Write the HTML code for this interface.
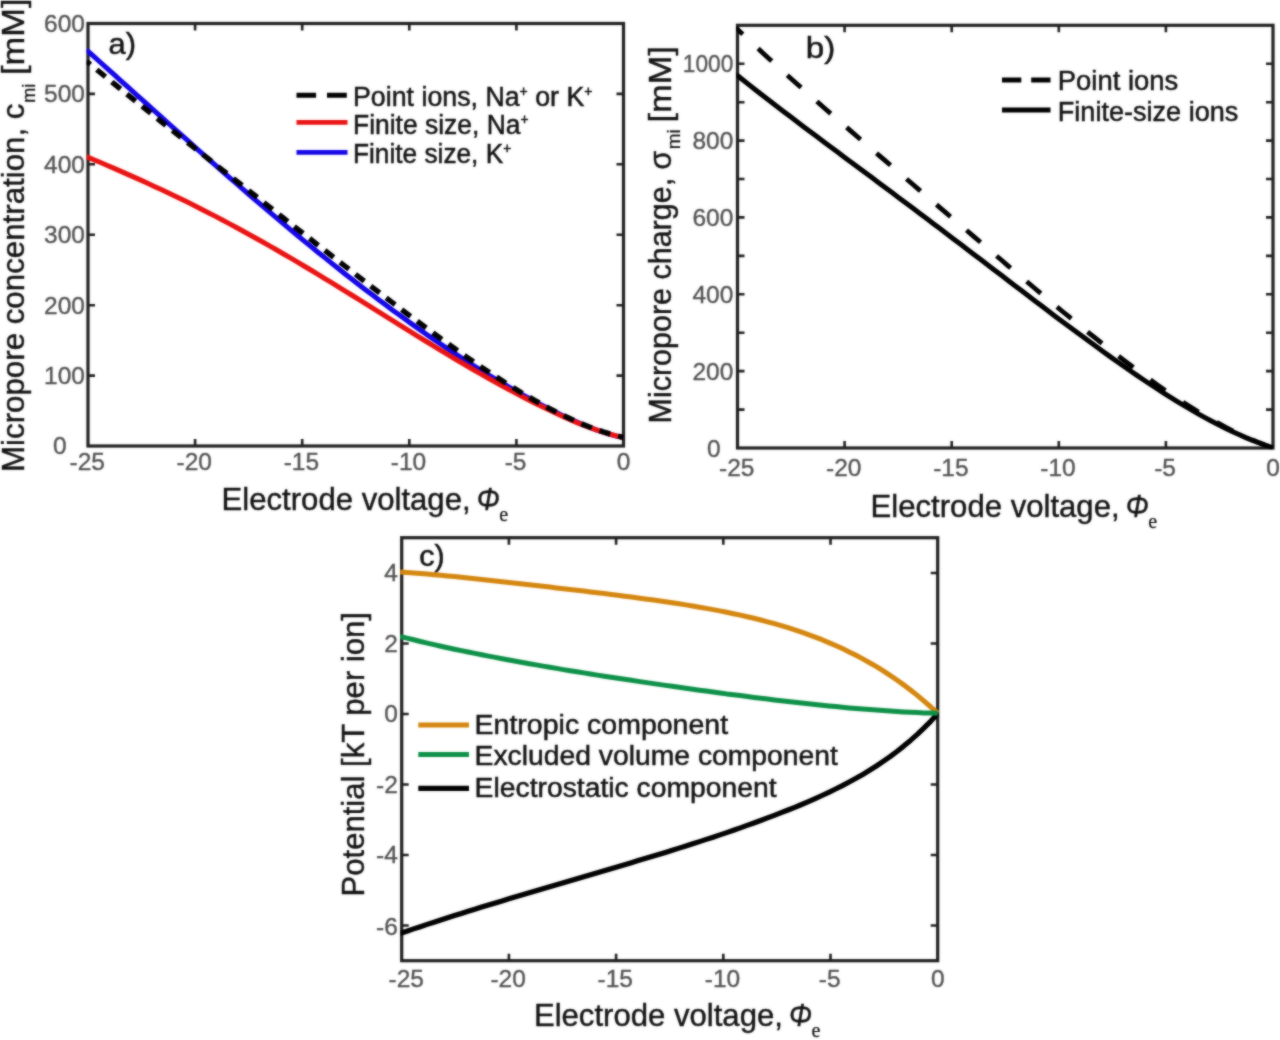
<!DOCTYPE html>
<html lang="en">
<head>
<meta charset="utf-8">
<title>Figure</title>
<style>
html,body{margin:0;padding:0;background:#fff;}
body{width:1280px;height:1040px;overflow:hidden;}
svg{display:block;font-family:"Liberation Sans", sans-serif;}
</style>
</head>
<body>
<svg width="1280" height="1040" viewBox="0 0 1280 1040">
<defs><filter id="soft" x="0" y="0" width="1280" height="1040" filterUnits="userSpaceOnUse" color-interpolation-filters="sRGB"><feGaussianBlur in="SourceGraphic" stdDeviation="0.8" result="b"/><feComposite in="SourceGraphic" in2="b" operator="arithmetic" k1="0" k2="0.4" k3="0.6" k4="0"/></filter></defs>
<g filter="url(#soft)">
<rect width="1280" height="1040" fill="#fff"/>
<rect x="88.0" y="23.5" width="535.5" height="422.5" fill="none" stroke="#1f1f1f" stroke-width="3.2"/>
<path d="M195.1 446.0 v-7.0 M195.1 23.5 v7.0 M302.2 446.0 v-7.0 M302.2 23.5 v7.0 M409.3 446.0 v-7.0 M409.3 23.5 v7.0 M516.4 446.0 v-7.0 M516.4 23.5 v7.0 M88.0 93.9 h7.0 M623.5 93.9 h-7.0 M88.0 164.3 h7.0 M623.5 164.3 h-7.0 M88.0 234.8 h7.0 M623.5 234.8 h-7.0 M88.0 305.2 h7.0 M623.5 305.2 h-7.0 M88.0 375.6 h7.0 M623.5 375.6 h-7.0 " fill="none" stroke="#1f1f1f" stroke-width="2.6"/>
<clipPath id="ca"><rect x="86.5" y="22.0" width="538.5" height="425.5"/></clipPath>
<g clip-path="url(#ca)">
<path d="M86.4 49.8 L93.2 55.9 L100.0 62.0 L106.8 68.1 L113.6 74.2 L120.4 80.3 L127.2 86.4 L134.0 92.5 L140.8 98.6 L147.6 104.7 L154.4 110.8 L161.2 116.9 L168.0 123.0 L174.8 129.1 L181.6 135.2 L188.4 141.2 L195.2 147.3 L202.0 153.3 L208.8 159.3 L215.6 165.3 L222.4 171.3 L229.2 177.3 L236.0 183.2 L242.8 189.1 L249.6 195.0 L256.4 200.8 L263.2 206.6 L270.0 212.4 L276.8 218.2 L283.6 223.9 L290.4 229.6 L297.2 235.2 L304.0 240.9 L310.8 246.4 L317.6 252.0 L324.4 257.4 L331.2 262.9 L338.0 268.3 L344.8 273.7 L351.6 279.0 L358.3 284.2 L365.1 289.5 L371.9 294.6 L378.7 299.8 L385.5 304.8 L392.3 309.9 L399.1 314.8 L405.9 319.7 L412.7 324.6 L419.5 329.4 L426.3 334.2 L433.1 338.9 L439.9 343.5 L446.7 348.1 L453.5 352.6 L460.3 357.1 L467.1 361.5 L473.9 365.8 L480.7 370.1 L487.5 374.3 L494.3 378.5 L501.1 382.5 L507.9 386.5 L514.7 390.4 L521.5 394.3 L528.3 398.0 L535.1 401.7 L541.9 405.3 L548.7 408.7 L555.5 412.1 L562.3 415.4 L569.1 418.6 L575.9 421.6 L582.7 424.6 L589.5 427.3 L596.3 429.9 L603.1 432.2 L609.9 434.3 L616.7 436.1 L623.5 437.5" fill="none" stroke="#1405e8" stroke-width="5.0" stroke-linecap="butt" stroke-linejoin="round"/>
<path d="M86.4 156.6 L93.2 159.5 L100.0 162.3 L106.8 165.2 L113.6 168.1 L120.4 171.1 L127.2 174.1 L134.0 177.1 L140.8 180.1 L147.6 183.2 L154.4 186.4 L161.2 189.5 L168.0 192.7 L174.8 196.0 L181.6 199.3 L188.4 202.6 L195.2 206.0 L202.0 209.5 L208.8 212.9 L215.6 216.4 L222.4 220.0 L229.2 223.6 L236.0 227.3 L242.8 231.0 L249.6 234.7 L256.4 238.5 L263.2 242.3 L270.0 246.1 L276.8 250.0 L283.6 254.0 L290.4 257.9 L297.2 261.9 L304.0 266.0 L310.8 270.0 L317.6 274.1 L324.4 278.3 L331.2 282.4 L338.0 286.6 L344.8 290.8 L351.6 295.0 L358.3 299.2 L365.1 303.4 L371.9 307.7 L378.7 311.9 L385.5 316.2 L392.3 320.4 L399.1 324.6 L405.9 328.9 L412.7 333.1 L419.5 337.3 L426.3 341.5 L433.1 345.7 L439.9 349.8 L446.7 353.9 L453.5 358.0 L460.3 362.0 L467.1 366.0 L473.9 370.0 L480.7 373.9 L487.5 377.7 L494.3 381.5 L501.1 385.3 L507.9 389.0 L514.7 392.6 L521.5 396.2 L528.3 399.7 L535.1 403.2 L541.9 406.5 L548.7 409.8 L555.5 413.1 L562.3 416.2 L569.1 419.2 L575.9 422.1 L582.7 424.9 L589.5 427.5 L596.3 429.9 L603.1 432.2 L609.9 434.2 L616.7 436.0 L623.5 437.5" fill="none" stroke="#e91212" stroke-width="5.0" stroke-linecap="butt" stroke-linejoin="round"/>
<path d="M86.4 61.2 L93.2 66.8 L100.0 72.3 L106.8 77.9 L113.6 83.4 L120.4 88.9 L127.2 94.4 L134.0 99.8 L140.8 105.3 L147.6 110.7 L154.4 116.1 L161.2 121.6 L168.0 127.0 L174.8 132.4 L181.6 137.7 L188.4 143.1 L195.2 148.5 L202.0 153.9 L208.8 159.2 L215.6 164.6 L222.4 170.0 L229.2 175.3 L236.0 180.7 L242.8 186.0 L249.6 191.4 L256.4 196.7 L263.2 202.1 L270.0 207.4 L276.8 212.8 L283.6 218.1 L290.4 223.5 L297.2 228.8 L304.0 234.1 L310.8 239.4 L317.6 244.8 L324.4 250.1 L331.2 255.4 L338.0 260.7 L344.8 266.0 L351.6 271.2 L358.3 276.5 L365.1 281.7 L371.9 287.0 L378.7 292.2 L385.5 297.4 L392.3 302.5 L399.1 307.7 L405.9 312.8 L412.7 317.9 L419.5 322.9 L426.3 328.0 L433.1 333.0 L439.9 337.9 L446.7 342.8 L453.5 347.7 L460.3 352.5 L467.1 357.3 L473.9 361.9 L480.7 366.6 L487.5 371.1 L494.3 375.6 L501.1 380.0 L507.9 384.4 L514.7 388.6 L521.5 392.7 L528.3 396.7 L535.1 400.6 L541.9 404.4 L548.7 408.1 L555.5 411.6 L562.3 415.0 L569.1 418.2 L575.9 421.3 L582.7 424.2 L589.5 426.9 L596.3 429.4 L603.1 431.8 L609.9 433.9 L616.7 435.8 L623.5 437.5" fill="none" stroke="#000" stroke-width="5.3" stroke-linecap="butt" stroke-linejoin="round" stroke-dasharray="11.2 8.2" stroke-dashoffset="6"/>
</g>
<text x="87.2" y="470.3" font-size="24.5" fill="#525252" stroke="#525252" stroke-width="0.35" text-anchor="middle">-25</text>
<text x="194.3" y="470.3" font-size="24.5" fill="#525252" stroke="#525252" stroke-width="0.35" text-anchor="middle">-20</text>
<text x="301.4" y="470.3" font-size="24.5" fill="#525252" stroke="#525252" stroke-width="0.35" text-anchor="middle">-15</text>
<text x="408.5" y="470.3" font-size="24.5" fill="#525252" stroke="#525252" stroke-width="0.35" text-anchor="middle">-10</text>
<text x="515.6" y="470.3" font-size="24.5" fill="#525252" stroke="#525252" stroke-width="0.35" text-anchor="middle">-5</text>
<text x="623.5" y="470.3" font-size="24.5" fill="#525252" stroke="#525252" stroke-width="0.35" text-anchor="middle">0</text>
<text x="85.0" y="31.9" font-size="24.5" fill="#525252" stroke="#525252" stroke-width="0.35" text-anchor="end">600</text>
<text x="85.0" y="102.3" font-size="24.5" fill="#525252" stroke="#525252" stroke-width="0.35" text-anchor="end">500</text>
<text x="85.0" y="172.7" font-size="24.5" fill="#525252" stroke="#525252" stroke-width="0.35" text-anchor="end">400</text>
<text x="85.0" y="243.2" font-size="24.5" fill="#525252" stroke="#525252" stroke-width="0.35" text-anchor="end">300</text>
<text x="85.0" y="313.6" font-size="24.5" fill="#525252" stroke="#525252" stroke-width="0.35" text-anchor="end">200</text>
<text x="85.0" y="384.0" font-size="24.5" fill="#525252" stroke="#525252" stroke-width="0.35" text-anchor="end">100</text>
<text x="59.7" y="454.4" font-size="24.5" fill="#525252" stroke="#525252" stroke-width="0.35" text-anchor="middle">0</text>
<path d="M296.5 95.3 h19.6 M327 95.3 h19.8" fill="none" stroke="#000" stroke-width="5.0" stroke-linecap="butt" stroke-linejoin="round"/>
<path d="M296.5 122.4 h51" fill="none" stroke="#e91212" stroke-width="4.8" stroke-linecap="butt" stroke-linejoin="round"/>
<path d="M296.5 152.4 h51" fill="none" stroke="#1405e8" stroke-width="4.8" stroke-linecap="butt" stroke-linejoin="round"/>
<text x="353.0" y="105.6" font-size="26.8" fill="#121212" stroke="#121212" stroke-width="0.5" text-anchor="start" textLength="239.5" lengthAdjust="spacingAndGlyphs">Point ions, Na<tspan font-size="14" dy="-10">+</tspan><tspan dy="10"> or K</tspan><tspan font-size="14" dy="-10">+</tspan></text>
<text x="353.0" y="133.7" font-size="26.8" fill="#121212" stroke="#121212" stroke-width="0.5" text-anchor="start" textLength="175.5" lengthAdjust="spacingAndGlyphs">Finite size, Na<tspan font-size="14" dy="-10">+</tspan></text>
<text x="353.0" y="163.1" font-size="26.8" fill="#121212" stroke="#121212" stroke-width="0.5" text-anchor="start" textLength="158.2" lengthAdjust="spacingAndGlyphs">Finite size, K<tspan font-size="14" dy="-10">+</tspan></text>
<text x="108.6" y="54.2" font-size="29.5" fill="#121212" stroke="#121212" stroke-width="0.5" text-anchor="start" textLength="27.5" lengthAdjust="spacingAndGlyphs">a)</text>
<text x="221.6" y="509.8" font-size="31.3" fill="#121212" stroke="#121212" stroke-width="0.42" text-anchor="start" textLength="249.0" lengthAdjust="spacingAndGlyphs">Electrode voltage,</text>
<text x="476.8" y="509.8" font-size="31.3" fill="#121212" stroke="#121212" stroke-width="0.42" text-anchor="start" textLength="23.0" lengthAdjust="spacingAndGlyphs" font-style="italic">Φ</text>
<text x="499.3" y="520.8" font-size="20" fill="#121212" stroke="#121212" stroke-width="0.25" text-anchor="start" font-family="'Liberation Serif', serif">e</text>
<g transform="translate(23.9,472.0) rotate(-90)">
<text x="0.0" y="0.0" font-size="31.3" fill="#121212" stroke="#121212" stroke-width="0.42" text-anchor="start" textLength="368.5" lengthAdjust="spacingAndGlyphs">Micropore concentration, c</text>
</g>
<g transform="translate(35.0,102.8) rotate(-90)">
<text x="0.0" y="0.0" font-size="17.5" fill="#121212" stroke="#121212" stroke-width="0.25" text-anchor="start" textLength="19.0" lengthAdjust="spacingAndGlyphs">mi</text>
</g>
<g transform="translate(23.9,75.0) rotate(-90)">
<text x="0.0" y="0.0" font-size="31.3" fill="#121212" stroke="#121212" stroke-width="0.42" text-anchor="start" textLength="76.5" lengthAdjust="spacingAndGlyphs">[mM]</text>
</g>
<rect x="737.5" y="25.3" width="535.5" height="422.7" fill="none" stroke="#1f1f1f" stroke-width="3.2"/>
<path d="M844.6 448.0 v-7.0 M844.6 25.3 v7.0 M951.7 448.0 v-7.0 M951.7 25.3 v7.0 M1058.8 448.0 v-7.0 M1058.8 25.3 v7.0 M1165.9 448.0 v-7.0 M1165.9 25.3 v7.0 M737.5 409.6 h7.0 M1273.0 409.6 h-7.0 M737.5 371.1 h7.0 M1273.0 371.1 h-7.0 M737.5 332.7 h7.0 M1273.0 332.7 h-7.0 M737.5 294.3 h7.0 M1273.0 294.3 h-7.0 M737.5 255.9 h7.0 M1273.0 255.9 h-7.0 M737.5 217.4 h7.0 M1273.0 217.4 h-7.0 M737.5 179.0 h7.0 M1273.0 179.0 h-7.0 M737.5 140.6 h7.0 M1273.0 140.6 h-7.0 M737.5 102.2 h7.0 M1273.0 102.2 h-7.0 M737.5 63.7 h7.0 M1273.0 63.7 h-7.0 " fill="none" stroke="#1f1f1f" stroke-width="2.6"/>
<clipPath id="cb"><rect x="736.0" y="23.8" width="538.5" height="425.7"/></clipPath>
<g clip-path="url(#cb)">
<path d="M735.9 27.7 L742.7 34.1 L749.5 40.5 L756.3 46.9 L763.1 53.2 L769.9 59.4 L776.7 65.6 L783.5 71.8 L790.3 77.9 L797.1 84.0 L803.9 90.0 L810.7 96.0 L817.5 102.0 L824.3 108.0 L831.1 113.9 L837.9 119.8 L844.7 125.7 L851.5 131.6 L858.3 137.5 L865.1 143.4 L871.9 149.2 L878.7 155.1 L885.5 160.9 L892.3 166.8 L899.1 172.6 L905.9 178.4 L912.7 184.3 L919.5 190.1 L926.3 195.9 L933.1 201.7 L939.9 207.6 L946.7 213.4 L953.5 219.2 L960.3 225.0 L967.1 230.8 L973.9 236.6 L980.7 242.4 L987.5 248.2 L994.3 254.0 L1001.1 259.8 L1007.8 265.6 L1014.6 271.3 L1021.4 277.1 L1028.2 282.8 L1035.0 288.5 L1041.8 294.2 L1048.6 299.9 L1055.4 305.5 L1062.2 311.2 L1069.0 316.7 L1075.8 322.3 L1082.6 327.8 L1089.4 333.3 L1096.2 338.7 L1103.0 344.1 L1109.8 349.4 L1116.6 354.7 L1123.4 359.9 L1130.2 365.0 L1137.0 370.1 L1143.8 375.1 L1150.6 380.0 L1157.4 384.8 L1164.2 389.6 L1171.0 394.2 L1177.8 398.7 L1184.6 403.2 L1191.4 407.5 L1198.2 411.7 L1205.0 415.7 L1211.8 419.6 L1218.6 423.4 L1225.4 427.1 L1232.2 430.6 L1239.0 433.9 L1245.8 437.0 L1252.6 440.0 L1259.4 442.8 L1266.2 445.4 L1273.0 447.8" fill="none" stroke="#000" stroke-width="4.7" stroke-linecap="butt" stroke-linejoin="round" stroke-dasharray="18.5 21" stroke-dashoffset="9"/>
<path d="M735.9 74.3 L742.7 79.7 L749.5 85.1 L756.3 90.5 L763.1 95.7 L769.9 101.0 L776.7 106.2 L783.5 111.4 L790.3 116.6 L797.1 121.7 L803.9 126.9 L810.7 132.0 L817.5 137.1 L824.3 142.2 L831.1 147.2 L837.9 152.3 L844.7 157.4 L851.5 162.4 L858.3 167.5 L865.1 172.6 L871.9 177.6 L878.7 182.7 L885.5 187.8 L892.3 192.8 L899.1 197.9 L905.9 203.0 L912.7 208.1 L919.5 213.2 L926.3 218.3 L933.1 223.5 L939.9 228.6 L946.7 233.7 L953.5 238.9 L960.3 244.0 L967.1 249.2 L973.9 254.4 L980.7 259.6 L987.5 264.7 L994.3 269.9 L1001.1 275.1 L1007.8 280.3 L1014.6 285.4 L1021.4 290.6 L1028.2 295.8 L1035.0 300.9 L1041.8 306.1 L1048.6 311.2 L1055.4 316.4 L1062.2 321.5 L1069.0 326.5 L1075.8 331.6 L1082.6 336.6 L1089.4 341.6 L1096.2 346.6 L1103.0 351.5 L1109.8 356.4 L1116.6 361.2 L1123.4 366.0 L1130.2 370.7 L1137.0 375.4 L1143.8 380.0 L1150.6 384.5 L1157.4 388.9 L1164.2 393.3 L1171.0 397.6 L1177.8 401.8 L1184.6 405.9 L1191.4 409.9 L1198.2 413.8 L1205.0 417.6 L1211.8 421.3 L1218.6 424.8 L1225.4 428.2 L1232.2 431.5 L1239.0 434.6 L1245.8 437.6 L1252.6 440.4 L1259.4 443.0 L1266.2 445.5 L1273.0 447.8" fill="none" stroke="#000" stroke-width="5.0" stroke-linecap="butt" stroke-linejoin="round"/>
</g>
<text x="736.7" y="476.3" font-size="24.5" fill="#525252" stroke="#525252" stroke-width="0.35" text-anchor="middle">-25</text>
<text x="843.8" y="476.3" font-size="24.5" fill="#525252" stroke="#525252" stroke-width="0.35" text-anchor="middle">-20</text>
<text x="950.9" y="476.3" font-size="24.5" fill="#525252" stroke="#525252" stroke-width="0.35" text-anchor="middle">-15</text>
<text x="1058.0" y="476.3" font-size="24.5" fill="#525252" stroke="#525252" stroke-width="0.35" text-anchor="middle">-10</text>
<text x="1165.1" y="476.3" font-size="24.5" fill="#525252" stroke="#525252" stroke-width="0.35" text-anchor="middle">-5</text>
<text x="1273.0" y="476.3" font-size="24.5" fill="#525252" stroke="#525252" stroke-width="0.35" text-anchor="middle">0</text>
<text x="733.3" y="72.1" font-size="24.5" fill="#525252" stroke="#525252" stroke-width="0.35" text-anchor="end" textLength="50.5" lengthAdjust="spacingAndGlyphs">1000</text>
<text x="733.3" y="149.0" font-size="24.5" fill="#525252" stroke="#525252" stroke-width="0.35" text-anchor="end">800</text>
<text x="733.3" y="225.8" font-size="24.5" fill="#525252" stroke="#525252" stroke-width="0.35" text-anchor="end">600</text>
<text x="733.3" y="302.7" font-size="24.5" fill="#525252" stroke="#525252" stroke-width="0.35" text-anchor="end">400</text>
<text x="733.3" y="379.5" font-size="24.5" fill="#525252" stroke="#525252" stroke-width="0.35" text-anchor="end">200</text>
<text x="713.8" y="457.2" font-size="24.5" fill="#525252" stroke="#525252" stroke-width="0.35" text-anchor="middle">0</text>
<path d="M1002 80 h19.3 M1031.2 80 h19.3" fill="none" stroke="#000" stroke-width="5.2" stroke-linecap="butt" stroke-linejoin="round"/>
<path d="M1002 110 h48.5" fill="none" stroke="#000" stroke-width="5.2" stroke-linecap="butt" stroke-linejoin="round"/>
<text x="1057.8" y="90.0" font-size="26.8" fill="#121212" stroke="#121212" stroke-width="0.5" text-anchor="start" textLength="120.5" lengthAdjust="spacingAndGlyphs">Point ions</text>
<text x="1057.8" y="121.0" font-size="26.8" fill="#121212" stroke="#121212" stroke-width="0.5" text-anchor="start" textLength="180.5" lengthAdjust="spacingAndGlyphs">Finite-size ions</text>
<text x="805.8" y="57.7" font-size="29.5" fill="#121212" stroke="#121212" stroke-width="0.5" text-anchor="start" textLength="29.5" lengthAdjust="spacingAndGlyphs">b)</text>
<text x="870.6" y="516.8" font-size="31.3" fill="#121212" stroke="#121212" stroke-width="0.42" text-anchor="start" textLength="249.0" lengthAdjust="spacingAndGlyphs">Electrode voltage,</text>
<text x="1125.8" y="516.8" font-size="31.3" fill="#121212" stroke="#121212" stroke-width="0.42" text-anchor="start" textLength="23.0" lengthAdjust="spacingAndGlyphs" font-style="italic">Φ</text>
<text x="1148.3" y="527.8" font-size="20" fill="#121212" stroke="#121212" stroke-width="0.25" text-anchor="start" font-family="'Liberation Serif', serif">e</text>
<g transform="translate(670.7,423.4) rotate(-90)">
<text x="0.0" y="0.0" font-size="31.3" fill="#121212" stroke="#121212" stroke-width="0.42" text-anchor="start" textLength="272.8" lengthAdjust="spacingAndGlyphs">Micropore charge, σ</text>
</g>
<g transform="translate(680.2,149.3) rotate(-90)">
<text x="0.0" y="0.0" font-size="17.5" fill="#121212" stroke="#121212" stroke-width="0.25" text-anchor="start" textLength="20.0" lengthAdjust="spacingAndGlyphs">mi</text>
</g>
<g transform="translate(670.7,122.5) rotate(-90)">
<text x="0.0" y="0.0" font-size="31.3" fill="#121212" stroke="#121212" stroke-width="0.42" text-anchor="start" textLength="76.5" lengthAdjust="spacingAndGlyphs">[mM]</text>
</g>
<rect x="401.7" y="537.7" width="536.0" height="423.0" fill="none" stroke="#1f1f1f" stroke-width="3.2"/>
<path d="M508.9 960.7 v-7.0 M508.9 537.7 v7.0 M616.1 960.7 v-7.0 M616.1 537.7 v7.0 M723.3 960.7 v-7.0 M723.3 537.7 v7.0 M830.5 960.7 v-7.0 M830.5 537.7 v7.0 M401.7 925.5 h7.0 M937.7 925.5 h-7.0 M401.7 855.0 h7.0 M937.7 855.0 h-7.0 M401.7 784.5 h7.0 M937.7 784.5 h-7.0 M401.7 714.0 h7.0 M937.7 714.0 h-7.0 M401.7 643.5 h7.0 M937.7 643.5 h-7.0 M401.7 573.0 h7.0 M937.7 573.0 h-7.0 " fill="none" stroke="#1f1f1f" stroke-width="2.6"/>
<clipPath id="cc"><rect x="400.2" y="536.2" width="539.0" height="426.0"/></clipPath>
<g clip-path="url(#cc)">
<path d="M400.0 933.5 L406.8 931.2 L413.6 928.9 L420.4 926.7 L427.2 924.4 L434.0 922.2 L440.8 920.0 L447.6 917.8 L454.5 915.6 L461.3 913.5 L468.1 911.3 L474.9 909.2 L481.7 907.1 L488.5 905.0 L495.3 902.9 L502.1 900.9 L508.9 898.8 L515.7 896.8 L522.5 894.7 L529.3 892.7 L536.1 890.7 L542.9 888.7 L549.7 886.7 L556.5 884.7 L563.4 882.7 L570.2 880.7 L577.0 878.7 L583.8 876.7 L590.6 874.7 L597.4 872.7 L604.2 870.7 L611.0 868.7 L617.8 866.7 L624.6 864.7 L631.4 862.7 L638.2 860.6 L645.0 858.6 L651.8 856.5 L658.6 854.5 L665.4 852.4 L672.3 850.3 L679.1 848.1 L685.9 846.0 L692.7 843.8 L699.5 841.6 L706.3 839.4 L713.1 837.2 L719.9 834.9 L726.7 832.6 L733.5 830.2 L740.3 827.9 L747.1 825.4 L753.9 823.0 L760.7 820.5 L767.5 817.9 L774.3 815.4 L781.2 812.7 L788.0 810.0 L794.8 807.3 L801.6 804.5 L808.4 801.6 L815.2 798.6 L822.0 795.5 L828.8 792.3 L835.6 789.0 L842.4 785.6 L849.2 782.0 L856.0 778.3 L862.8 774.4 L869.6 770.3 L876.4 766.0 L883.2 761.4 L890.1 756.6 L896.9 751.5 L903.7 746.1 L910.5 740.4 L917.3 734.4 L924.1 727.9 L930.9 721.1 L937.7 713.8" fill="none" stroke="#000" stroke-width="5.2" stroke-linecap="butt" stroke-linejoin="round"/>
<path d="M400.1 572.0 L406.9 572.5 L413.7 573.0 L420.5 573.5 L427.3 574.1 L434.1 574.7 L440.9 575.3 L447.7 576.0 L454.5 576.6 L461.3 577.3 L468.2 578.0 L475.0 578.7 L481.8 579.4 L488.6 580.2 L495.4 580.9 L502.2 581.7 L509.0 582.5 L515.8 583.2 L522.6 584.0 L529.4 584.8 L536.2 585.6 L543.0 586.3 L549.8 587.1 L556.6 587.9 L563.4 588.7 L570.2 589.5 L577.0 590.3 L583.8 591.1 L590.6 592.0 L597.4 592.8 L604.3 593.6 L611.1 594.5 L617.9 595.3 L624.7 596.2 L631.5 597.1 L638.3 598.0 L645.1 598.9 L651.9 599.8 L658.7 600.8 L665.5 601.7 L672.3 602.8 L679.1 603.8 L685.9 604.9 L692.7 606.0 L699.5 607.2 L706.3 608.4 L713.1 609.6 L719.9 610.9 L726.7 612.3 L733.5 613.7 L740.4 615.1 L747.2 616.7 L754.0 618.3 L760.8 620.0 L767.6 621.8 L774.4 623.7 L781.2 625.6 L788.0 627.7 L794.8 629.9 L801.6 632.2 L808.4 634.6 L815.2 637.1 L822.0 639.7 L828.8 642.6 L835.6 645.5 L842.4 648.6 L849.2 651.9 L856.0 655.3 L862.8 658.9 L869.6 662.7 L876.5 666.7 L883.3 670.9 L890.1 675.4 L896.9 680.0 L903.7 684.9 L910.5 690.0 L917.3 695.4 L924.1 701.1 L930.9 707.0 L937.7 713.2" fill="none" stroke="#d4860e" stroke-width="5.0" stroke-linecap="butt" stroke-linejoin="round"/>
<path d="M400.1 636.4 L406.9 638.1 L413.7 639.8 L420.5 641.5 L427.3 643.1 L434.1 644.6 L440.9 646.2 L447.7 647.7 L454.5 649.2 L461.3 650.6 L468.2 652.0 L475.0 653.4 L481.8 654.8 L488.6 656.1 L495.4 657.4 L502.2 658.7 L509.0 660.0 L515.8 661.3 L522.6 662.5 L529.4 663.7 L536.2 664.9 L543.0 666.1 L549.8 667.3 L556.6 668.4 L563.4 669.6 L570.2 670.7 L577.0 671.8 L583.8 672.9 L590.6 674.0 L597.4 675.1 L604.3 676.2 L611.1 677.2 L617.9 678.3 L624.7 679.3 L631.5 680.3 L638.3 681.4 L645.1 682.4 L651.9 683.4 L658.7 684.4 L665.5 685.4 L672.3 686.3 L679.1 687.3 L685.9 688.3 L692.7 689.2 L699.5 690.2 L706.3 691.1 L713.1 692.0 L719.9 692.9 L726.7 693.9 L733.5 694.7 L740.4 695.6 L747.2 696.5 L754.0 697.4 L760.8 698.2 L767.6 699.1 L774.4 699.9 L781.2 700.7 L788.0 701.5 L794.8 702.3 L801.6 703.1 L808.4 703.8 L815.2 704.5 L822.0 705.2 L828.8 705.9 L835.6 706.6 L842.4 707.3 L849.2 707.9 L856.0 708.5 L862.8 709.1 L869.6 709.6 L876.5 710.1 L883.3 710.6 L890.1 711.1 L896.9 711.5 L903.7 711.9 L910.5 712.2 L917.3 712.6 L924.1 712.9 L930.9 713.1 L937.7 713.3" fill="none" stroke="#0c9047" stroke-width="5.0" stroke-linecap="butt" stroke-linejoin="round"/>
</g>
<text x="406.2" y="987.0" font-size="24.5" fill="#525252" stroke="#525252" stroke-width="0.35" text-anchor="middle">-25</text>
<text x="508.1" y="987.0" font-size="24.5" fill="#525252" stroke="#525252" stroke-width="0.35" text-anchor="middle">-20</text>
<text x="615.3" y="987.0" font-size="24.5" fill="#525252" stroke="#525252" stroke-width="0.35" text-anchor="middle">-15</text>
<text x="722.5" y="987.0" font-size="24.5" fill="#525252" stroke="#525252" stroke-width="0.35" text-anchor="middle">-10</text>
<text x="829.7" y="987.0" font-size="24.5" fill="#525252" stroke="#525252" stroke-width="0.35" text-anchor="middle">-5</text>
<text x="937.7" y="987.0" font-size="24.5" fill="#525252" stroke="#525252" stroke-width="0.35" text-anchor="middle">0</text>
<text x="397.8" y="581.4" font-size="24.5" fill="#525252" stroke="#525252" stroke-width="0.35" text-anchor="end">4</text>
<text x="397.8" y="651.9" font-size="24.5" fill="#525252" stroke="#525252" stroke-width="0.35" text-anchor="end">2</text>
<text x="397.8" y="722.4" font-size="24.5" fill="#525252" stroke="#525252" stroke-width="0.35" text-anchor="end">0</text>
<text x="397.8" y="792.9" font-size="24.5" fill="#525252" stroke="#525252" stroke-width="0.35" text-anchor="end">-2</text>
<text x="397.8" y="863.4" font-size="24.5" fill="#525252" stroke="#525252" stroke-width="0.35" text-anchor="end">-4</text>
<text x="397.8" y="935.2" font-size="24.5" fill="#525252" stroke="#525252" stroke-width="0.35" text-anchor="end">-6</text>
<path d="M418.3 725.1 h50.7" fill="none" stroke="#d4860e" stroke-width="5.0" stroke-linecap="butt" stroke-linejoin="round"/>
<path d="M418.3 754.5 h50.7" fill="none" stroke="#0c9047" stroke-width="5.0" stroke-linecap="butt" stroke-linejoin="round"/>
<path d="M418.3 788.4 h50.7" fill="none" stroke="#000" stroke-width="5.2" stroke-linecap="butt" stroke-linejoin="round"/>
<text x="474.6" y="733.7" font-size="26.8" fill="#121212" stroke="#121212" stroke-width="0.5" text-anchor="start" textLength="253.5" lengthAdjust="spacingAndGlyphs">Entropic component</text>
<text x="474.6" y="765.0" font-size="26.8" fill="#121212" stroke="#121212" stroke-width="0.5" text-anchor="start" textLength="363.3" lengthAdjust="spacingAndGlyphs">Excluded volume component</text>
<text x="474.6" y="797.2" font-size="26.8" fill="#121212" stroke="#121212" stroke-width="0.5" text-anchor="start" textLength="302.0" lengthAdjust="spacingAndGlyphs">Electrostatic component</text>
<text x="419.3" y="565.8" font-size="29.5" fill="#121212" stroke="#121212" stroke-width="0.5" text-anchor="start" textLength="25.5" lengthAdjust="spacingAndGlyphs">c)</text>
<text x="533.9" y="1026.2" font-size="31.3" fill="#121212" stroke="#121212" stroke-width="0.42" text-anchor="start" textLength="249.0" lengthAdjust="spacingAndGlyphs">Electrode voltage,</text>
<text x="789.0" y="1026.2" font-size="31.3" fill="#121212" stroke="#121212" stroke-width="0.42" text-anchor="start" textLength="23.0" lengthAdjust="spacingAndGlyphs" font-style="italic">Φ</text>
<text x="811.5" y="1037.2" font-size="20" fill="#121212" stroke="#121212" stroke-width="0.25" text-anchor="start" font-family="'Liberation Serif', serif">e</text>
<g transform="translate(364.3,896.5) rotate(-90)">
<text x="0.0" y="0.0" font-size="31.3" fill="#121212" stroke="#121212" stroke-width="0.42" text-anchor="start" textLength="284.5" lengthAdjust="spacingAndGlyphs">Potential [kT per ion]</text>
</g>
</g>
</svg>
</body>
</html>
